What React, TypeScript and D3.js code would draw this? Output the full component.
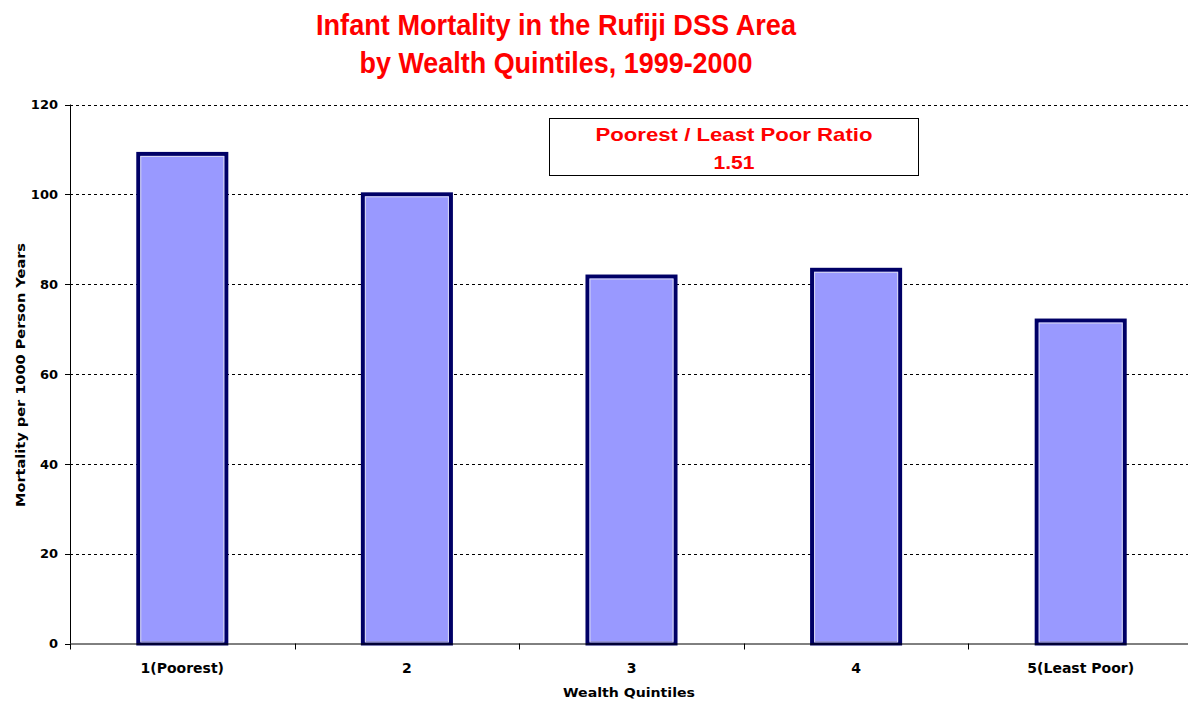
import React from "react";
import * as d3 from "d3";

const categories = ["1(Poorest)", "2", "3", "4", "5(Least Poor)"];
const mortality = [109, 100, 81.7, 83.2, 71.9];
const yTicks = [0, 20, 40, 60, 80, 100, 120];
const titleLines = ["Infant Mortality in the Rufiji DSS Area", "by Wealth Quintiles, 1999-2000"];
const annotationLines = ["Poorest / Least Poor Ratio", "1.51"];

const W = 1188;
const H = 707;
const left = 70;
const right = 1193;
const top = 104.5;
const bottom = 643.5;

export default function App() {
  const x = d3
    .scaleBand<string>()
    .domain(categories)
    .range([left, right])
    .paddingInner(0.608)
    .paddingOuter(0.304);
  const y = d3.scaleLinear().domain([0, 120]).range([bottom, top]);
  const step = x.step();
  const boundaries = d3.range(categories.length + 1).map((i) => left + i * step);
  const tickFont = "'DejaVu Sans', Verdana, sans-serif";
  const redFont = "'Liberation Sans', Arial, sans-serif";

  return (
    <svg
      width={W}
      height={H}
      style={{ position: "absolute", left: 0, top: 0, background: "#fff" }}
    >
      {/* title */}
      {titleLines.map((t, i) => (
        <text
          key={t}
          x={556}
          y={35 + i * 38}
          textAnchor="middle"
          fill="#ff0000"
          fontFamily={redFont}
          fontWeight="bold"
          fontSize={30}
          textLength={i === 0 ? 480 : 393}
          lengthAdjust="spacingAndGlyphs"
        >
          {t}
        </text>
      ))}

      {/* gridlines */}
      {yTicks.filter((v) => v > 0).map((v) => (
        <line
          key={v}
          x1={left}
          x2={right}
          y1={Math.round(y(v)) + 0.5}
          y2={Math.round(y(v)) + 0.5}
          stroke="#000"
          strokeWidth={1}
          strokeDasharray="3,3"
        />
      ))}

      {/* bars */}
      {categories.map((c, i) => {
        const bx = x(c)!;
        const bw = x.bandwidth();
        const by = y(mortality[i]);
        return (
          <g key={c}>
            <rect x={bx} y={by} width={bw} height={bottom - by} fill="#9999ff" stroke="#000066" strokeWidth={4} />
            <rect x={bx + 2.5} y={by + 2.5} width={bw - 5} height={bottom - by - 4} fill="none" stroke="#d8d8f0" strokeWidth={1} />
          </g>
        );
      })}

      {/* axes */}
      <line x1={left + 0.5} x2={left + 0.5} y1={top} y2={bottom} stroke="#000" strokeWidth={1} />
      <line x1={left} x2={right} y1={bottom + 0.5} y2={bottom + 0.5} stroke="#000" strokeWidth={1} />
      {yTicks.map((v) => (
        <g key={v}>
          <line x1={left - 5} x2={left} y1={Math.round(y(v)) + 0.5} y2={Math.round(y(v)) + 0.5} stroke="#000" />
          <text
            x={58}
            y={y(v)}
            dy="0.36em"
            textAnchor="end"
            fontFamily={tickFont}
            fontWeight="bold"
            fontSize={13}
            fill="#000"
          >
            {v}
          </text>
        </g>
      ))}
      {boundaries.map((bx, i) => (
        <line key={i} x1={Math.round(bx) + 0.5} x2={Math.round(bx) + 0.5} y1={bottom} y2={bottom + 6} stroke="#000" />
      ))}
      {categories.map((c) => (
        <text
          key={c}
          x={x(c)! + x.bandwidth() / 2}
          y={673}
          textAnchor="middle"
          fontFamily={tickFont}
          fontWeight="bold"
          fontSize={14}
          fill="#000"
        >
          {c}
        </text>
      ))}

      {/* axis titles */}
      <text
        x={629}
        y={697}
        textAnchor="middle"
        fontFamily={tickFont}
        fontWeight="bold"
        fontSize={12}
        fill="#000"
        textLength={132}
        lengthAdjust="spacingAndGlyphs"
      >
        Wealth Quintiles
      </text>
      <text
        transform={`translate(25, 375) rotate(-90)`}
        textAnchor="middle"
        fontFamily={tickFont}
        fontWeight="bold"
        fontSize={12}
        fill="#000"
        textLength={264}
        lengthAdjust="spacingAndGlyphs"
      >
        Mortality per 1000 Person Years
      </text>

      {/* annotation */}
      <rect x={549.5} y={118.5} width={369} height={57} fill="#fff" stroke="#000" strokeWidth={1} />
      {annotationLines.map((t, i) => (
        <text
          key={t}
          x={734}
          y={141 + i * 28}
          textAnchor="middle"
          fill="#ff0000"
          fontFamily={redFont}
          fontWeight="bold"
          fontSize={19}
          textLength={i === 0 ? 277 : 41}
          lengthAdjust="spacingAndGlyphs"
        >
          {t}
        </text>
      ))}
    </svg>
  );
}
